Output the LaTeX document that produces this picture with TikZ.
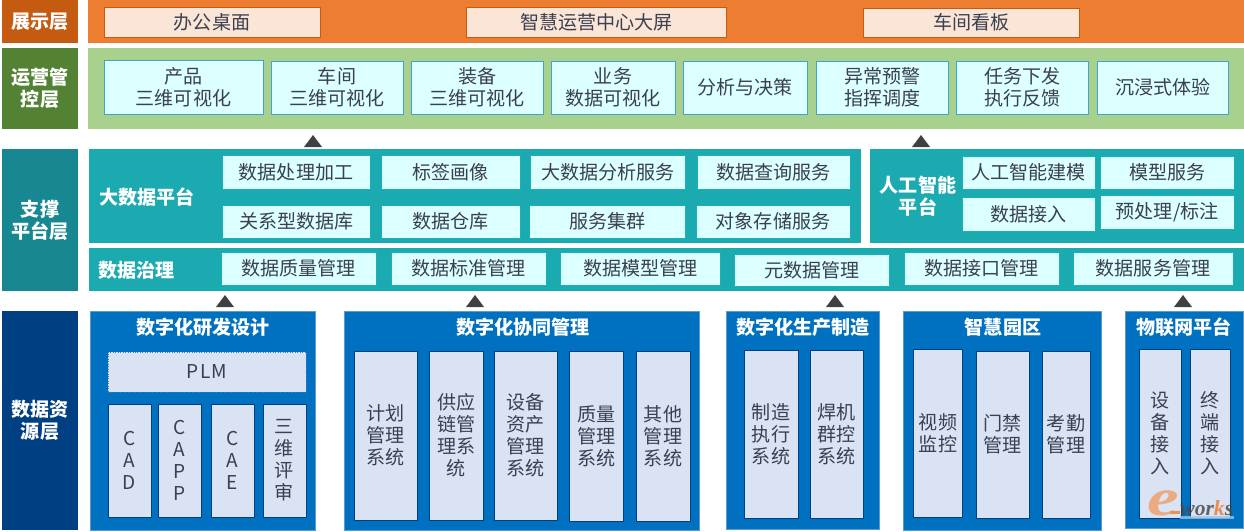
\documentclass[tikz,border=0pt]{standalone}
\usepackage{fontspec}
\setmainfont{Noto Sans CJK SC}
\newfontfamily\markfont{Liberation Serif}
\definecolor{morange}{HTML}{ED7D31}
\definecolor{mrust}{HTML}{C55A11}
\definecolor{mpeach}{HTML}{FBE5D6}
\definecolor{mgreen}{HTML}{A9D18E}
\definecolor{mmoss}{HTML}{548235}
\definecolor{mteal}{HTML}{1CAAB1}
\definecolor{mdeepteal}{HTML}{178892}
\definecolor{mnavy}{HTML}{003F82}
\definecolor{mblue}{HTML}{0070C0}
\definecolor{medge}{HTML}{5B9BD5}
\definecolor{mice}{HTML}{DCFFFF}
\definecolor{mpale}{HTML}{DAE3F3}
\definecolor{mink}{HTML}{3A4050}
\tikzset{base/.style = {inner sep=0pt, outer sep=0pt, align=center,
                        font=\fontsize{10.85}{12.47}\selectfont},
         layer/.style = {base, fill=#1, text=white, font=\fontsize{10.85}{12.47}\selectfont\bfseries},
         band/.style = {base, fill=#1},
         title/.style = {base, text=white, font=\fontsize{10.85}{12.47}\selectfont\bfseries},
         showbox/.style = {base, fill=mpeach, draw=mrust, text=mink},
         opsbox/.style = {base, fill=mice, draw=cyan!60!teal!90, text=mink},
         platbox/.style = {base, fill=mice, draw=mteal!90!cyan, text=mink},
         block/.style = {base, fill=mblue, draw=medge},
         sysbox/.style = {base, fill=mpale, draw=mnavy, text=mink},
         plmbox/.style = {base, fill=mpale, draw=medge!70!mnavy, densely dotted, text=mink}}
% style, name, left, top, right, bottom, text
\newcommand{\pane}[7]{\node [#1, minimum width={(#5-#3)*0.02cm}, minimum height={(#6-#4)*0.02cm}] (#2) at ({(#3+#5)/2}, {(#4+#6)/2}) {#7};}

\begin{document}
\begin{tikzpicture}[x=0.02cm, y=-0.02cm]
    \useasboundingbox (0, 0) rectangle (1244, 531);

    % layers
    \pane{layer=mrust}{showlayer}{2}{0}{78}{43}{展示层}
    \pane{layer=mmoss}{opslayer}{2}{48}{78}{129}{运营管\\控层}
    \pane{layer=mdeepteal}{platlayer}{2}{149}{78}{291}{支撑\\平台层}
    \pane{layer=mnavy}{datalayer}{2}{311}{78}{530}{数据资\\源层}

    \pane{band=morange}{showband}{88}{0}{1244}{43}{}
    \pane{band=mgreen}{opsband}{88}{48}{1244}{129}{}
    \pane{band=mteal}{bigband}{89}{149}{861}{243}{}
    \pane{band=mteal}{aiband}{870}{149}{1244}{243}{}
    \pane{band=mteal}{govband}{89}{248}{1244}{291}{}

    \pane{showbox}{desk}{104}{7}{320}{37}{办公桌面}
    \pane{showbox}{screen}{466.5}{7}{726.5}{37}{智慧运营中心大屏}
    \pane{showbox}{kanban}{863.5}{8}{1079.5}{37}{车间看板}

    \pane{opsbox}{product}{104}{60}{263}{114}{产品\\三维可视化}
    \pane{opsbox}{workshop}{271}{61}{403}{114}{车间\\三维可视化}
    \pane{opsbox}{equip}{411}{61}{543.5}{114}{装备\\三维可视化}
    \pane{opsbox}{business}{551}{61}{675}{114}{业务\\数据可视化}
    \pane{opsbox}{decision}{683.5}{61}{807}{114}{分析与决策}
    \pane{opsbox}{alarm}{816.5}{61}{948}{114}{异常预警\\指挥调度}
    \pane{opsbox}{task}{956.5}{61}{1088}{114}{任务下发\\执行反馈}
    \pane{opsbox}{immerse}{1097.5}{61}{1228.5}{114}{沉浸式体验}

    % platform
    \node [title, anchor=west] (bigtitle) at (99, 197) {大数据平台};
    \pane{platbox}{process}{222}{155}{370}{189}{数据处理加工}
    \pane{platbox}{label}{381}{155}{520}{189}{标签画像}
    \pane{platbox}{analysis}{530}{155}{685.5}{189}{大数据分析服务}
    \pane{platbox}{query}{697}{155}{850}{189}{数据查询服务}
    \pane{platbox}{relation}{222.5}{205}{370}{238}{关系型数据库}
    \pane{platbox}{warehouse}{381}{205}{520}{238}{数据仓库}
    \pane{platbox}{cluster}{529.5}{205}{685.5}{238}{服务集群}
    \pane{platbox}{storage}{696}{205}{850}{238}{对象存储服务}

    \node [title] (aititle) at (918, 196) {人工智能\\平台};
    \pane{platbox}{modeling}{962.5}{156}{1095}{189}{人工智能建模}
    \pane{platbox}{modelserv}{1100.5}{156}{1234}{189}{模型服务}
    \pane{platbox}{access}{962.5}{197}{1095}{231}{数据接入}
    \pane{platbox}{prep}{1100.5}{195}{1234}{229}{预处理/标注}

    \node [title, anchor=west] (govtitle) at (98, 270) {数据治理};
    \pane{platbox}{quality}{221.5}{252}{376}{285}{数据质量管理}
    \pane{platbox}{standard}{391}{252}{546.5}{285}{数据标准管理}
    \pane{platbox}{datamodel}{560}{252}{720.5}{285}{数据模型管理}
    \pane{platbox}{meta}{734.5}{254}{889}{286}{元数据管理}
    \pane{platbox}{iface}{904}{252}{1059.5}{285}{数据接口管理}
    \pane{platbox}{service}{1073}{252}{1233}{285}{数据服务管理}

    % data sources
    \pane{block}{rd}{90}{311}{315.5}{530}{}
    \pane{block}{collab}{344}{311}{699.5}{530}{}
    \pane{block}{produce}{726}{311}{879}{529}{}
    \pane{block}{park}{903}{311}{1101.5}{530}{}
    \pane{block}{iot}{1125}{311}{1243}{528}{}

    \node [title] (rdtitle) at (203, 327) {数字化研发设计};
    \node [title] (collabtitle) at (523, 327) {数字化协同管理};
    \node [title] (producetitle) at (803, 327) {数字化生产制造};
    \node [title] (parktitle) at (1003, 327) {智慧园区};
    \node [title] (iottitle) at (1184, 327) {物联网平台};

    \pane{plmbox}{plm}{108}{352}{306}{392}{\addfontfeatures{LetterSpace=6}PLM}
    \pane{sysbox}{cad}{108}{404}{151}{517}{C\\A\\D}
    \pane{sysbox}{capp}{158}{404}{201}{517}{C\\A\\P\\P}
    \pane{sysbox}{cae}{211}{404}{254}{517}{C\\A\\E}
    \pane{sysbox}{review}{263}{404}{306}{517}{三\\维\\评\\审}

    \pane{sysbox}{plan}{354}{351}{417}{520}{计划\\管理\\系统}
    \pane{sysbox}{supply}{429.5}{351}{483}{520}{供应\\链管\\理系\\统}
    \pane{sysbox}{asset}{494}{351}{557}{520}{设备\\资产\\管理\\系统}
    \pane{sysbox}{qms}{569.5}{351}{623}{521}{质量\\管理\\系统}
    \pane{sysbox}{other}{636}{351}{690}{521}{其他\\管理\\系统}

    \pane{sysbox}{mes}{744}{350}{798}{518}{制造\\执行\\系统}
    \pane{sysbox}{weld}{810.5}{350}{863}{518}{焊机\\群控\\系统}

    \pane{sysbox}{video}{913.5}{349}{962.5}{517}{视频\\监控}
    \pane{sysbox}{door}{976.5}{351}{1029}{518}{门禁\\管理}
    \pane{sysbox}{attend}{1042}{351}{1090}{518}{考勤\\管理}

    \pane{sysbox}{devin}{1139.5}{349}{1181}{518}{设\\备\\接\\入}
    \pane{sysbox}{termin}{1190.5}{349}{1230}{518}{终\\端\\接\\入}

    % markers between the layers
    \foreach \tipx/\basey in {313/147, 921/147, 225/307, 475/307, 835/307, 1183/307}
      \fill [black!75] (\tipx-9, \basey) -- (\tipx+9, \basey) -- (\tipx, \basey-12) -- cycle;

    % watermark
    \fill [medge!60, opacity=0.8] (1180, 516) rectangle (1234, 519);
    \fill [morange, opacity=0.8] (1170, 511) rectangle (1180, 514);
    \node [inner sep=0pt, text=morange!80, opacity=0.75, xscale=1.35, transform shape, font=\markfont\fontsize{30}{30}\selectfont\bfseries\itshape] (marke) at (1163, 503) {e};
    \node [inner sep=0pt, anchor=base west, text=black!70, opacity=0.85, font=\markfont\fontsize{12.3}{14}\selectfont\bfseries\itshape] (markworks) at (1180, 515) {wor\textcolor{morange}{k}s};
\end{tikzpicture}
\end{document}
